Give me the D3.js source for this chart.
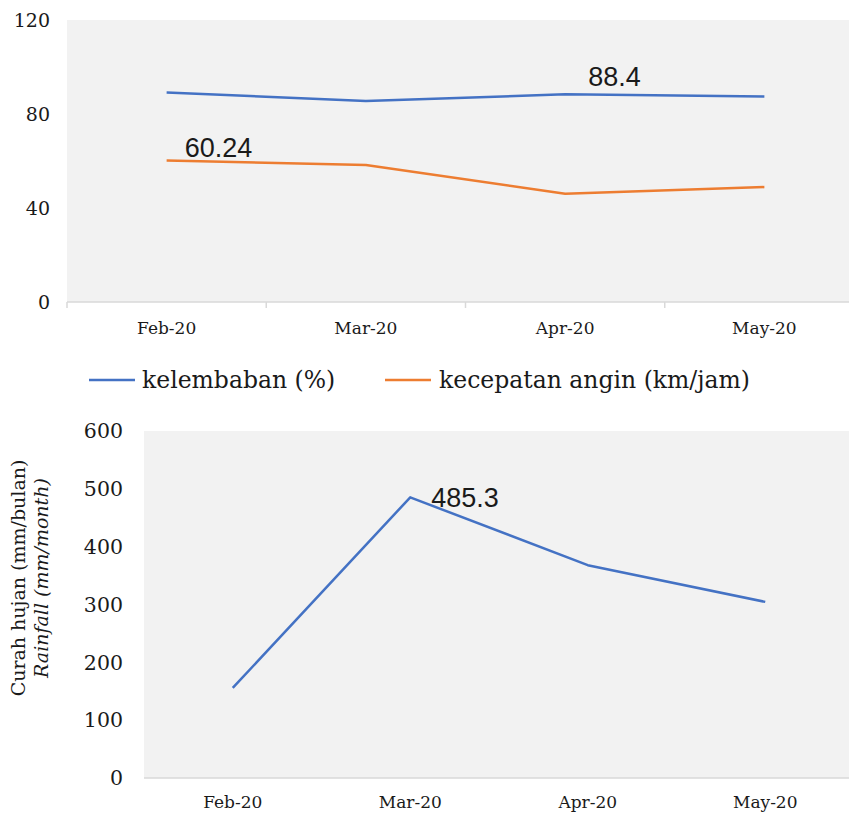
<!DOCTYPE html>
<html>
<head>
<meta charset="utf-8">
<script src="https://cdn.jsdelivr.net/npm/d3@7"></script>
<style>
  html, body { margin: 0; padding: 0; background: #ffffff; }
  svg { display: block; }
</style>
</head>
<body>
<script>
// Monthly weather observations, Feb–May 2020
const months = ["Feb-20", "Mar-20", "Apr-20", "May-20"];
const humidity = [89.2, 85.5, 88.4, 87.4];          // kelembaban (%)
const windSpeed = [60.24, 58.3, 46.1, 48.9];       // kecepatan angin (km/jam)
const rainfall = [155.7, 485.3, 368, 304.5];       // curah hujan (mm/bulan)
const topTicks = [0, 40, 80, 120];
const bottomTicks = [0, 100, 200, 300, 400, 500, 600];
const seriesNames = ["kelembaban (%)", "kecepatan angin (km/jam)"];

const W = 849, H = 816;
const BLUE = "#4472c4", ORANGE = "#ed7d31", BG = "#f2f2f2", AXIS = "#d9d9d9", TXT = "#1a1a1a";
const SERIF = "'DejaVu Serif', serif";
const SANS = "'Liberation Sans', Arial, sans-serif";

const svg = d3.select("body").append("svg").attr("width", W).attr("height", H);

// ---------- Upper chart: humidity & wind speed ----------
const upper = { x0: 67, x1: 864, y0: 20, y1: 302 };
const xTop = d3.scaleBand().domain(months).range([upper.x0, upper.x1]);
const yTop = d3.scaleLinear().domain([0, 120]).range([upper.y1, upper.y0]);

svg.append("rect").attr("x", upper.x0).attr("y", upper.y0)
  .attr("width", W - upper.x0).attr("height", upper.y1 - upper.y0).attr("fill", BG);

// x axis baseline with category boundary ticks
const gxTop = svg.append("g").attr("transform", `translate(0,${upper.y1})`);
gxTop.append("line").attr("x1", upper.x0).attr("x2", W).attr("stroke", AXIS).attr("stroke-width", 1.5);
gxTop.selectAll("line.tick").data(months)
  .join("line").attr("class", "tick")
  .attr("x1", d => xTop(d)).attr("x2", d => xTop(d))
  .attr("y1", 0).attr("y2", 6).attr("stroke", AXIS).attr("stroke-width", 1.5);
gxTop.selectAll("text").data(months).join("text")
  .attr("x", d => xTop(d) + xTop.bandwidth() / 2).attr("y", 32)
  .attr("text-anchor", "middle").attr("font-family", SERIF).attr("font-size", 17)
  .attr("fill", TXT).text(d => d);

// y tick labels
svg.append("g").selectAll("text").data(topTicks).join("text")
  .attr("x", 50).attr("y", d => yTop(d)).attr("dy", "0.35em")
  .attr("text-anchor", "end").attr("font-family", SERIF).attr("font-size", 19)
  .attr("fill", TXT).text(d => d);

const cx = xTop.bandwidth() / 2;
const lineTop = d3.line().x((d, i) => xTop(months[i]) + cx).y(d => yTop(d));
svg.append("path").datum(humidity).attr("d", lineTop)
  .attr("fill", "none").attr("stroke", BLUE).attr("stroke-width", 2.5).attr("stroke-linejoin", "round");
svg.append("path").datum(windSpeed).attr("d", lineTop)
  .attr("fill", "none").attr("stroke", ORANGE).attr("stroke-width", 2.5).attr("stroke-linejoin", "round");

// value labels
svg.append("text").attr("x", xTop(months[0]) + cx + 18).attr("y", yTop(windSpeed[0]) - 3)
  .attr("font-family", SANS).attr("font-size", 27).attr("fill", TXT).text(windSpeed[0]);
svg.append("text").attr("x", xTop(months[2]) + cx + 23).attr("y", yTop(humidity[2]) - 8)
  .attr("font-family", SANS).attr("font-size", 27).attr("fill", TXT).text(humidity[2]);

// legend
const legend = svg.append("g").attr("transform", "translate(0,380)");
[[89, BLUE, seriesNames[0], 142], [385, ORANGE, seriesNames[1], 439]].forEach(([lx, col, name, tx]) => {
  legend.append("line").attr("x1", lx).attr("x2", lx + 46).attr("y1", 0).attr("y2", 0)
    .attr("stroke", col).attr("stroke-width", 2.5);
  legend.append("text").attr("x", tx).attr("y", 0).attr("dy", "0.35em")
    .attr("font-family", SERIF).attr("font-size", 23.5).attr("fill", TXT).text(name);
});

// ---------- Lower chart: rainfall ----------
const lower = { x0: 144, x1: 854, y0: 431, y1: 778 };
const xBot = d3.scaleBand().domain(months).range([lower.x0, lower.x1]);
const yBot = d3.scaleLinear().domain([0, 600]).range([lower.y1, lower.y0]);

svg.append("rect").attr("x", lower.x0).attr("y", lower.y0)
  .attr("width", W - lower.x0).attr("height", lower.y1 - lower.y0).attr("fill", BG);
svg.append("line").attr("x1", lower.x0).attr("x2", W).attr("y1", lower.y1).attr("y2", lower.y1)
  .attr("stroke", AXIS).attr("stroke-width", 1.5);

svg.append("g").selectAll("text").data(months).join("text")
  .attr("x", d => xBot(d) + xBot.bandwidth() / 2).attr("y", lower.y1 + 30)
  .attr("text-anchor", "middle").attr("font-family", SERIF).attr("font-size", 17)
  .attr("fill", TXT).text(d => d);

svg.append("g").selectAll("text").data(bottomTicks).join("text")
  .attr("x", 123).attr("y", d => yBot(d)).attr("dy", "0.35em")
  .attr("text-anchor", "end").attr("font-family", SERIF).attr("font-size", 20.5)
  .attr("fill", TXT).text(d => d);

const cxb = xBot.bandwidth() / 2;
svg.append("path").datum(rainfall)
  .attr("d", d3.line().x((d, i) => xBot(months[i]) + cxb).y(d => yBot(d)))
  .attr("fill", "none").attr("stroke", BLUE).attr("stroke-width", 2.5).attr("stroke-linejoin", "round");

svg.append("text").attr("x", xBot(months[1]) + cxb + 21).attr("y", yBot(rainfall[1]) + 10)
  .attr("font-family", SANS).attr("font-size", 27).attr("fill", TXT).text(rainfall[1]);

// y axis title (two lines, second in italics)
const yTitle = svg.append("g").attr("transform", "translate(0,578) rotate(-90)");
yTitle.append("text").attr("x", 0).attr("y", 25).attr("text-anchor", "middle")
  .attr("font-family", SERIF).attr("font-size", 19).attr("fill", TXT).text("Curah hujan (mm/bulan)");
yTitle.append("text").attr("x", 0).attr("y", 48).attr("text-anchor", "middle")
  .attr("font-family", SERIF).attr("font-size", 19).attr("font-style", "italic")
  .attr("fill", TXT).text("Rainfall (mm/month)");
</script>
</body>
</html>
